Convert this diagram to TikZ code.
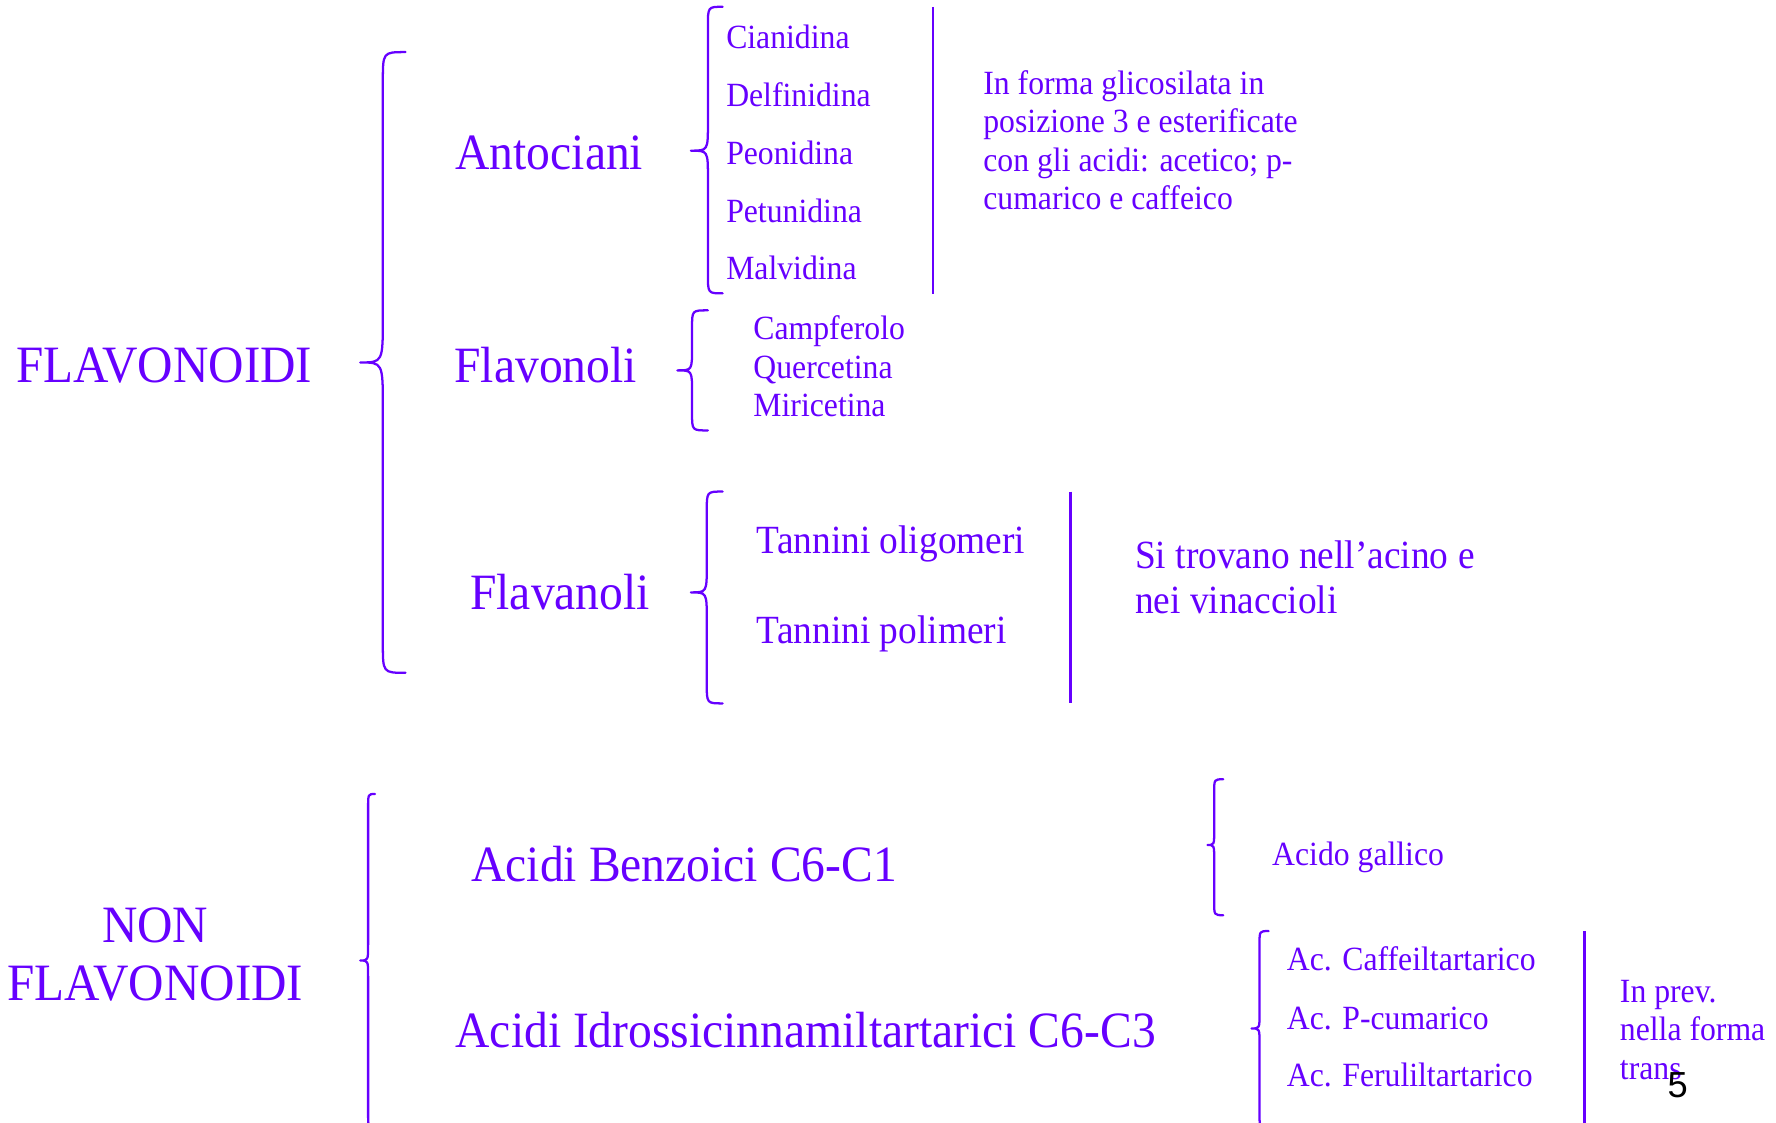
\documentclass[tikz,border=0pt]{standalone}
\usepackage{fontspec}
\setmainfont{Liberation Serif}
\newfontfamily\pagenumfont{Liberation Sans}
\definecolor{ink}{RGB}{102,0,255}

% curly brace: tip x, spine x, end x, top y, middle y, bottom y, end radius, middle radius
\newcommand\curlybrace[8]{%
  \draw[bracestroke] (#3,#4) .. controls (#2,#4) .. (#2,#4+#7)
    -- (#2,#5-#8) .. controls (#2,#5) .. (#1,#5)
    .. controls (#2,#5) .. (#2,#5+#8)
    -- (#2,#6-#7) .. controls (#2,#6) .. (#3,#6);}

\tikzset{
  txt/.style={inner sep=0pt, anchor=base west, text=ink,
    execute at begin node={\setbox0=\hbox\bgroup},
    execute at end node={\egroup\scalebox{1}[1.07]{\box0}}},
  sizeXL/.style={txt, font=\fontsize{43.3}{50}\selectfont},
  sizeL/.style={txt, font=\fontsize{42}{50}\selectfont},
  sizeM/.style={txt, font=\fontsize{33}{40}\selectfont},
  sizeS/.style={txt, font=\fontsize{28}{34}\selectfont},
  bracestroke/.style={draw=ink, line width=2pt, line cap=round, line join=round},
  rule/.style={draw=ink, line width=2pt},
}

\begin{document}
\begin{tikzpicture}[x=1pt, y=-1pt]
\useasboundingbox (0,0) rectangle (1568,991);

% ---------- FLAVONOIDI ----------
\node[sizeXL] (flav) at (14,338) {FLAVONOIDI};
\curlybrace{318}{338}{358}{46}{320}{594}{26}{40}

\node[sizeL] (antoc) at (402,150) {Antociani};
\node[sizeL] (flavonoli) at (401,338) {Flavonoli};
\node[sizeL] (flavanoli) at (415,538) {Flavanoli};

% Antociani
\curlybrace{610}{625}{638}{6}{133}{259}{17}{24}
\node[sizeS] (cian) at (641,43) {Cianidina};
\node[sizeS] (delf) at (641,94) {Delfinidina};
\node[sizeS] (peon) at (641,145) {Peonidina};
\node[sizeS] (petu) at (641,196) {Petunidina};
\node[sizeS] (malv) at (641,247) {Malvidina};
\draw[rule] (824,6) -- (824,260);
\node[sizeS] (noteA1) at (868,83) {In forma glicosilata in};
\node[sizeS] (noteA2) at (868,117) {posizione 3 e esterificate};
\node[sizeS] (noteA3) at (868,151) {con gli acidi: acetico; p-};
\node[sizeS] (noteA4) at (868,185) {cumarico e caffeico};

% Flavonoli
\curlybrace{598}{611}{625}{274}{327}{380}{15}{20}
\node[sizeS] (camp) at (665,300) {Campferolo};
\node[sizeS] (quer) at (665,334) {Quercetina};
\node[sizeS] (miri) at (665,368) {Miricetina};

% Flavanoli
\curlybrace{610}{624}{638}{434}{523}{621}{17}{24}
\node[sizeM] (tolig) at (668,489) {Tannini oligomeri};
\node[sizeM] (tpoli) at (668,568) {Tannini polimeri};
\draw[rule] (945,434) -- (945,621);
\node[sizeM] (noteB1) at (1002,502) {Si trovano nell’acino e};
\node[sizeM] (noteB2) at (1002,542) {nei vinaccioli};

% ---------- NON FLAVONOIDI ----------
\node[sizeXL, anchor=base] (non1) at (137,832) {NON};
\node[sizeXL, anchor=base] (non2) at (137,883) {FLAVONOIDI};
\curlybrace{318}{325}{331}{701}{848}{995}{12}{14}

\node[sizeL] (benz) at (416,778) {Acidi Benzoici C6-C1};
\node[sizeL] (idro) at (402,925) {Acidi Idrossicinnamiltartarici C6-C3};

% Acidi benzoici
\curlybrace{1066}{1072}{1080}{688}{746}{808}{11}{13}
\node[sizeS] (gall) at (1123,764) {Acido gallico};

% Acidi idrossicinnamiltartarici
\curlybrace{1105}{1112}{1120}{822}{908}{995}{11}{13}
\node[sizeS] (caff) at (1136,857) {Ac. Caffeiltartarico};
\node[sizeS] (pcum) at (1136,909) {Ac. P-cumarico};
\node[sizeS] (feru) at (1136,959) {Ac. Ferulіltartarico};
\draw[rule] (1399,822) -- (1399,995);
\node[sizeS] (noteC1) at (1430,885) {In prev.};
\node[sizeS] (noteC2) at (1430,919) {nella forma};
\node[sizeS] (noteC3) at (1430,953) {trans};

% page number
\node[inner sep=0pt, anchor=base west, font=\pagenumfont\fontsize{32}{38}\selectfont] (pg) at (1472,969) {5};
\end{tikzpicture}
\end{document}
